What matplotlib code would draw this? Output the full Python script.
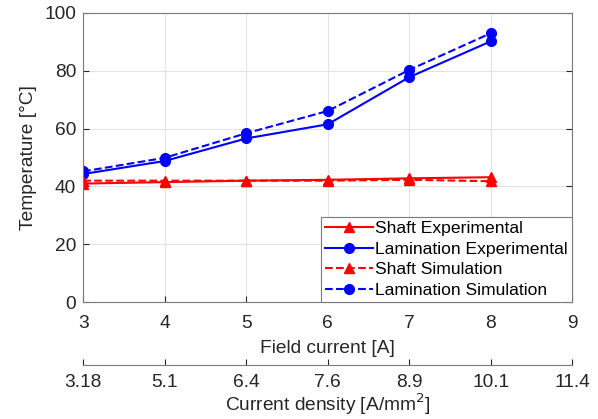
import numpy as np
import matplotlib.pyplot as plt

plt.rcParams['font.family'] = ['Liberation Sans', 'DejaVu Sans']

# field current [A] and matching current density [A/mm^2]
field_current = [3, 4, 5, 6, 7, 8]
tick_current = [3, 4, 5, 6, 7, 8, 9]
density_labels = ['3.18', '5.1', '6.4', '7.6', '8.9', '10.1', '11.4']

# temperatures [degC]
shaft_exp = [41.0, 41.5, 42.0, 42.3, 42.8, 43.2]
lam_exp = [44.3, 48.8, 56.6, 61.5, 77.8, 90.2]
shaft_sim = [42.0, 42.0, 42.0, 42.0, 42.3, 41.8]
lam_sim = [45.2, 49.9, 58.4, 66.1, 80.3, 93.0]

axis_col = '#262626'
fs = 13.8

fig = plt.figure(figsize=(5.98, 4.19), dpi=100)
ax = fig.add_axes([0.139, 0.279, 0.818, 0.690])

ax.plot(field_current, shaft_exp, '-', color='red', marker='^', ms=7.5, lw=1.5, label='Shaft Experimental')
ax.plot(field_current, lam_exp, '-', color='blue', marker='o', ms=7, lw=1.5, label='Lamination Experimental')
ax.plot(field_current, shaft_sim, '--', color='red', marker='^', ms=7.5, lw=1.5, label='Shaft Simulation')
ax.plot(field_current, lam_sim, '--', color='blue', marker='o', ms=7, lw=1.5, label='Lamination Simulation')

ax.set_xlim(3, 9)
ax.set_ylim(0, 100)
ax.set_xticks(tick_current)
ax.set_yticks([0, 20, 40, 60, 80, 100])
ax.grid(True, color='#e3e3e3', lw=0.8)
ax.set_axisbelow(True)
ax.tick_params(direction='in', top=True, right=True, labelsize=fs,
               colors=axis_col, labelcolor=axis_col, length=4)
ax.tick_params(axis='x', pad=9)
ax.tick_params(axis='y', pad=5)
for s in ax.spines.values():
    s.set_color('#7a7a7a')
ax.set_xlabel('Field current [A]', fontsize=fs, color=axis_col, labelpad=6)
ax.set_ylabel('Temperature [°C]', fontsize=fs, color=axis_col, labelpad=5)

leg = ax.legend(loc='lower right', fontsize=12.6, fancybox=False, framealpha=1,
                edgecolor='#7a7a7a', borderaxespad=0, handlelength=2.7,
                handletextpad=0.15, borderpad=0.25, labelspacing=0.3)
leg.get_frame().set_linewidth(0.8)

# second x axis: current density
ax2 = ax.twiny()
ax2.set_xlim(ax.get_xlim())
ax2.set_xticks(tick_current)
ax2.set_xticklabels(density_labels)
ax2.xaxis.set_ticks_position('bottom')
ax2.xaxis.set_label_position('bottom')
ax2.spines['bottom'].set_position(('outward', 45))
for side in ['top', 'left', 'right']:
    ax2.spines[side].set_visible(False)
ax2.spines['bottom'].set_color('#7a7a7a')
ax2.tick_params(axis='x', direction='in', labelsize=fs, colors=axis_col,
                labelcolor=axis_col, length=4, pad=7)
ax2.set_xlabel('Current density [A/mm$^2$]', fontsize=fs, color=axis_col, labelpad=0)

fig.savefig('out.png', dpi=100)
